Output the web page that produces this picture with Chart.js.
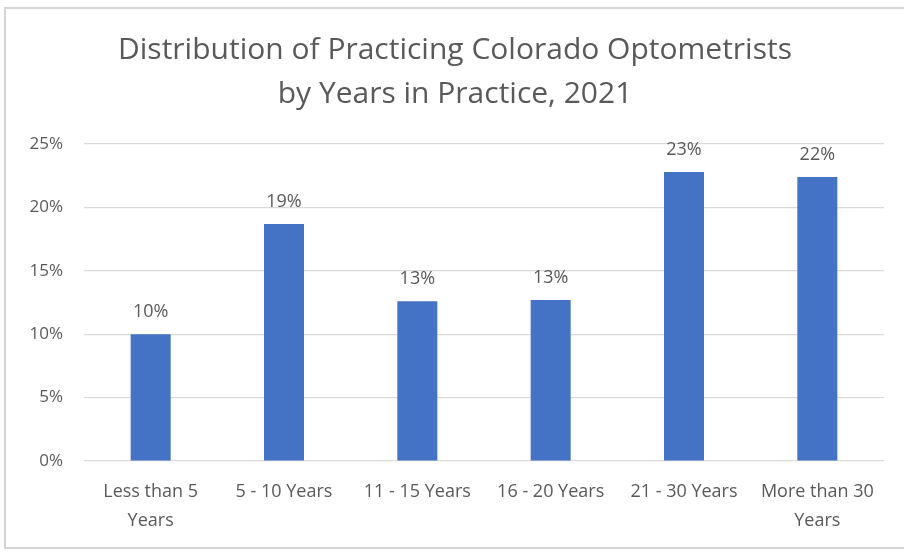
<!DOCTYPE html>
<html>
<head>
<meta charset="utf-8">
<script src="https://cdn.jsdelivr.net/npm/chart.js@4/dist/chart.umd.min.js"></script>
<style>
  html, body { margin: 0; padding: 0; background: #fff; }
</style>
</head>
<body>
<canvas id="yearsChart" width="904" height="552"></canvas>
<script>
const titleLines = ["Distribution of Practicing Colorado Optometrists", "by Years in Practice, 2021"];
const yearGroups = [["Less than 5", "Years"], "5 - 10 Years", "11 - 15 Years", "16 - 20 Years", "21 - 30 Years", ["More than 30", "Years"]];
const sharePct = [10.0, 18.7, 12.6, 12.7, 22.8, 22.4];
const yMax = 25;
const yStep = 5;

const textGray = '#595959';

// white background plus the thin grey frame round the chart
const frame = {
  id: 'frame',
  beforeDraw(chart) {
    const ctx = chart.ctx;
    ctx.save();
    ctx.fillStyle = '#fff';
    ctx.fillRect(0, 0, chart.width, chart.height);
    ctx.strokeStyle = '#d4d4d4';
    ctx.lineWidth = 2;
    ctx.strokeRect(5, 8, chart.width + 10, 540);
    ctx.restore();
  }
};

// percentage written above each bar
const barLabels = {
  id: 'barLabels',
  afterDatasetsDraw(chart) {
    const ctx = chart.ctx;
    const meta = chart.getDatasetMeta(0);
    ctx.save();
    ctx.font = '18px "Open Sans"';
    ctx.fillStyle = textGray;
    ctx.textAlign = 'center';
    ctx.textBaseline = 'middle';
    meta.data.forEach((bar, i) => {
      ctx.fillText(Math.round(sharePct[i]) + '%', bar.x, bar.y - 22);
    });
    ctx.restore();
  }
};

new Chart(document.getElementById('yearsChart'), {
  type: 'bar',
  data: {
    labels: yearGroups,
    datasets: [{
      data: sharePct,
      backgroundColor: '#4472C4',
      barPercentage: 0.3,
      categoryPercentage: 1.0
    }]
  },
  options: {
    responsive: false,
    animation: false,
    devicePixelRatio: 1,
    layout: { padding: { left: 26, right: 20, top: 0, bottom: 0 } },
    plugins: {
      legend: { display: false },
      tooltip: { enabled: false },
      title: {
        display: true,
        text: titleLines,
        color: textGray,
        font: { family: '"Open Sans"', size: 30, weight: 'normal', lineHeight: 1.483 },
        padding: { top: 27.75, bottom: 27.25 }
      }
    },
    scales: {
      x: {
        grid: { display: false, drawTicks: false },
        border: { display: false },
        ticks: {
          color: textGray,
          font: { family: '"Open Sans"', size: 18, lineHeight: 1.61 },
          padding: 16.5,
          maxRotation: 0
        }
      },
      y: {
        min: 0,
        max: yMax,
        afterFit(scale) { scale.width = 58; },
        grid: { color: '#d9d9d9', lineWidth: 1.3, drawTicks: false },
        border: { display: false },
        ticks: {
          stepSize: yStep,
          color: textGray,
          font: { family: '"Open Sans"', size: 17 },
          padding: 21,
          callback: v => v + '%'
        }
      }
    }
  },
  plugins: [frame, barLabels]
});
</script>
</body>
</html>
